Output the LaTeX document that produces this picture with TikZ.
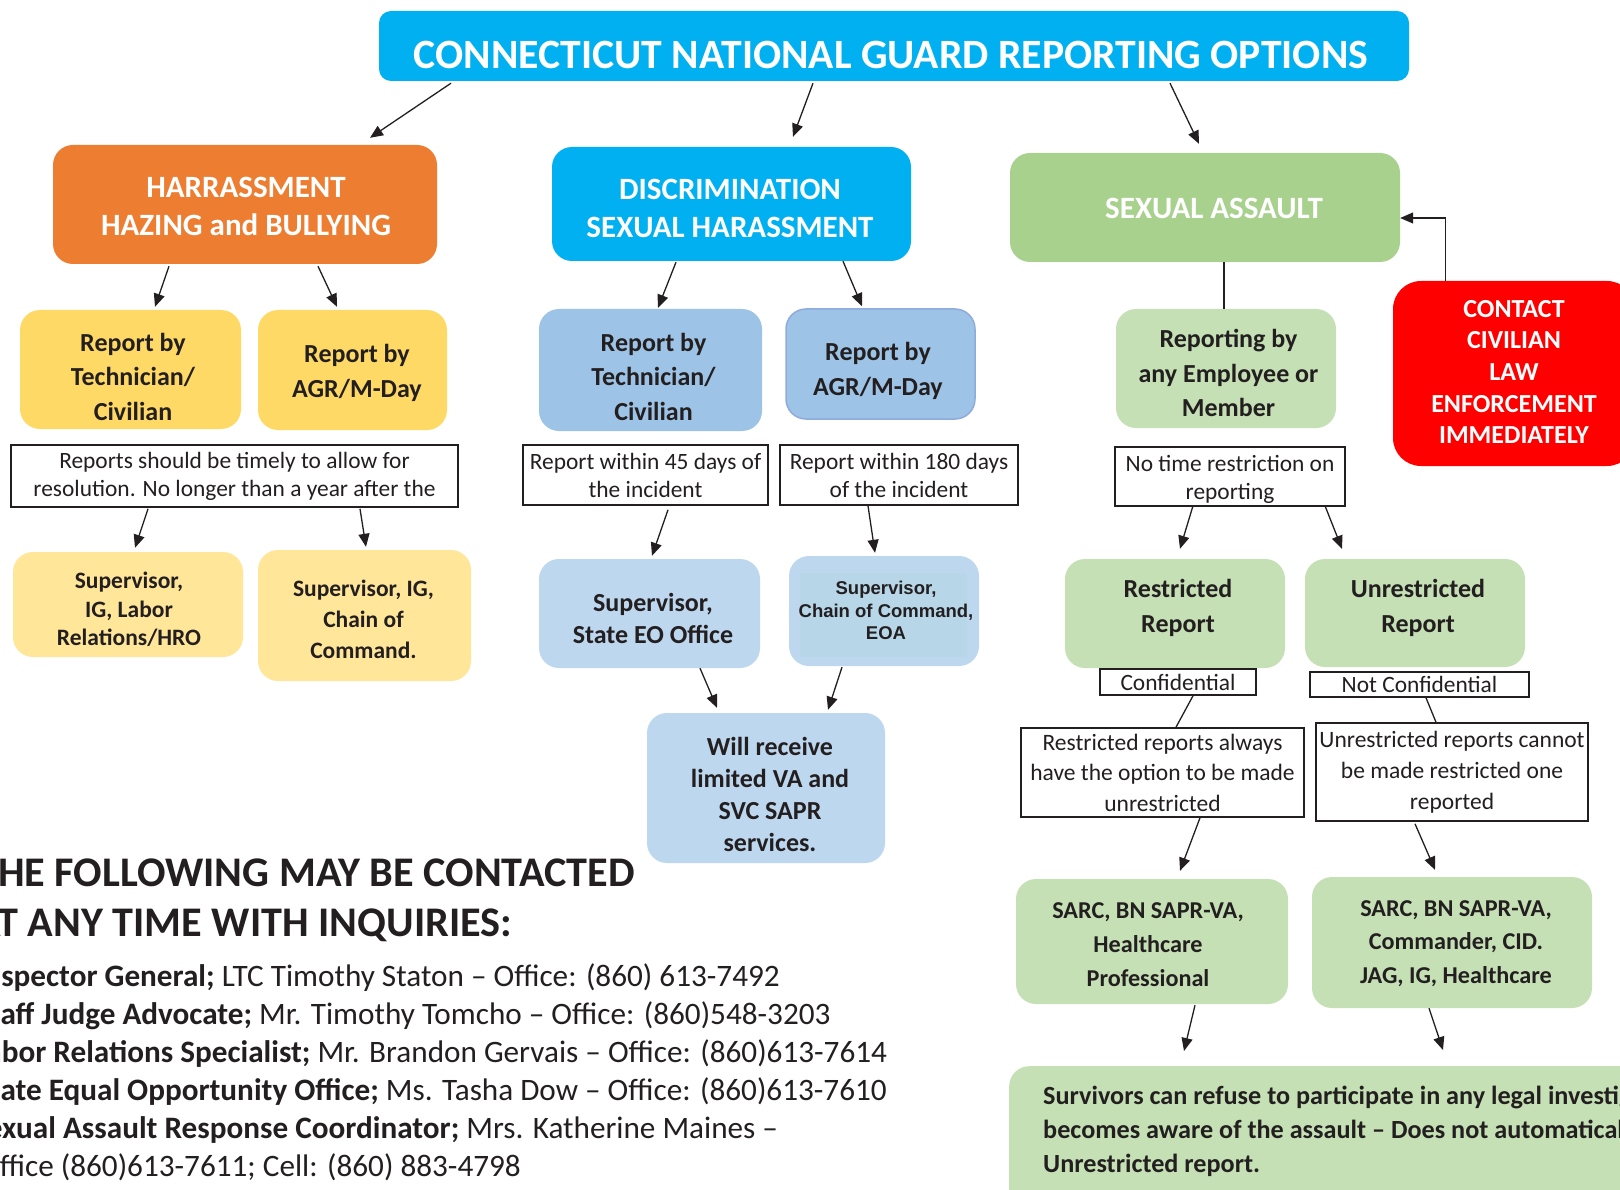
\documentclass[tikz,border=0pt]{standalone}
\usepackage{fontspec}
\setmainfont{Carlito}
\newfontfamily\arialfont{Liberation Sans}
\usetikzlibrary{arrows.meta,calc}
\definecolor{tc}{HTML}{231F20}
\definecolor{corange}{HTML}{ED7D31}
\definecolor{ccyan}{HTML}{00B0F0}
\definecolor{csa}{HTML}{A9D18E}
\definecolor{cred}{HTML}{FF0000}
\definecolor{cyel}{HTML}{FFD966}
\definecolor{cyel2}{HTML}{FFE699}
\definecolor{cblu}{HTML}{9DC3E6}
\definecolor{cblu2}{HTML}{BDD7EE}
\definecolor{cblu3}{HTML}{B7D6E8}
\definecolor{cbord}{HTML}{8FAADC}
\definecolor{clg}{HTML}{C5E0B4}
\tikzset{
  bx/.style={rounded corners=20pt, inner sep=0pt, draw=none},
  bt/.style={inner sep=0pt, align=center, text=tc, font=\bfseries\fontsize{26}{34.5}\selectfont},
  wt/.style={bt, text=white},
  hd/.style={wt, font=\bfseries\fontsize{31}{38}\selectfont},
  note/.style={draw=tc, line width=1.6pt, fill=white, inner sep=0pt, align=center, text=tc, font=\fontsize{23.4}{28}\selectfont},
  arr/.style={line width=1.3pt, draw=tc, -{Triangle[length=13pt,width=11pt]}},
  ln/.style={line width=1.3pt, draw=tc},
  lt/.style={inner sep=0pt, anchor=base west, text=tc},
}
\begin{document}
\begin{tikzpicture}[x=1pt,y=-1pt]
\useasboundingbox (0,0) rectangle (1620,1190);
\clip (0,0) rectangle (1620,1190);
\fill[white] (0,0) rectangle (1620,1190);

% title
\node[bx, fill=ccyan, rounded corners=12pt, minimum width=1030pt, minimum height=70pt] (title) at (894,46) {};
\node[wt, font=\bfseries\fontsize{41.7}{50}\selectfont] (titlet) at (891,55) {CONNECTICUT NATIONAL GUARD REPORTING OPTIONS};

% level 1
\node[bx, fill=corange, minimum width=384pt, minimum height=119pt] (harass) at (245,204.5) {};
\node[hd] (harasst) at (246,206) {HARRASSMENT\\HAZING and BULLYING};
\node[bx, fill=ccyan, minimum width=359pt, minimum height=114pt] (discr) at (731.5,204) {};
\node[hd] (discrt) at (730,208) {DISCRIMINATION\\SEXUAL HARASSMENT};
\node[bx, fill=csa, minimum width=390pt, minimum height=109pt] (sa) at (1205,207.5) {};
\node[hd] (sat) at (1214,208) {SEXUAL ASSAULT};
\node[bx, fill=cred, rounded corners=28pt, minimum width=242pt, minimum height=185pt] (contact) at (1514,373.5) {};
\node[wt, font=\bfseries\fontsize{26}{31.7}\selectfont] (contactt) at (1514,372) {CONTACT\\CIVILIAN\\LAW\\ENFORCEMENT\\IMMEDIATELY};

% level 2
\node[bx, fill=cyel, minimum width=221pt, minimum height=119pt] (y1) at (130.5,369.5) {};
\node[bt] (y1t) at (133,376.5) {Report by\\Technician/\\Civilian};
\node[bx, fill=cyel, minimum width=189pt, minimum height=120pt] (y2) at (352.5,370) {};
\node[bt] (y2t) at (357,373) {Report by\\AGR/M-Day};
\node[bx, fill=cblu, minimum width=223pt, minimum height=122pt] (b1) at (650.5,370) {};
\node[bt] (b1t) at (653.5,376.5) {Report by\\Technician/\\Civilian};
\node[bx, fill=cblu, draw=cbord, line width=1.5pt, minimum width=189pt, minimum height=110pt] (b2) at (880.5,364) {};
\node[bt] (b2t) at (878,371) {Report by\\AGR/M-Day};
\node[bx, fill=clg, minimum width=220pt, minimum height=119pt] (g1) at (1226,368.5) {};
\node[bt] (g1t) at (1228.5,373) {Reporting by\\any Employee or\\Member};

% notes
\node[note, minimum width=447pt, minimum height=62pt] (t1) at (234.5,476) {Reports should be timely to allow for\\resolution. No longer than a year after the};
\node[note, minimum width=245pt, minimum height=60pt] (t2) at (645.5,475) {Report within 45 days of\\the incident};
\node[note, minimum width=238pt, minimum height=60pt] (t3) at (899,475) {Report within 180 days\\of the incident};
\node[note, minimum width=230pt, minimum height=59pt] (t4) at (1230,476.5) {};
\node[inner sep=0pt, align=center, text=tc, font=\fontsize{23.4}{28}\selectfont] (t4t) at (1230,479) {No time restriction on\\reporting};

% level 3
\node[bx, fill=cyel2, minimum width=230pt, minimum height=105pt] (s1) at (128,604.5) {};
\node[bt, font=\bfseries\fontsize{23.5}{28.4}\selectfont] (s1t) at (129,609.3) {Supervisor,\\IG, Labor\\Relations/HRO};
\node[bx, fill=cyel2, minimum width=213pt, minimum height=131pt] (s2) at (364.5,615.5) {};
\node[bt, font=\bfseries\fontsize{23.5}{31}\selectfont] (s2t) at (363.5,619) {Supervisor, IG,\\Chain of\\Command.};
\node[bx, fill=cblu2, minimum width=221pt, minimum height=109pt] (s3) at (649.5,613.5) {};
\node[bt, font=\bfseries\fontsize{26}{32}\selectfont] (s3t) at (653,618) {Supervisor,\\State EO Office};
\node[bx, fill=cblu2, minimum width=190pt, minimum height=110pt] (s4) at (884,611) {};
\fill[cblu3] (800,573) rectangle (967,657);
\node[bt, font=\arialfont\bfseries\fontsize{18.5}{22.7}\selectfont] (s4t) at (886,610.5) {Supervisor,\\Chain of Command,\\EOA};
\node[bx, fill=cblu2, minimum width=238pt, minimum height=150pt] (will) at (766,788) {};
\node[bt, font=\bfseries\fontsize{26}{32}\selectfont] (willt) at (770,794) {Will receive\\limited VA and\\SVC SAPR\\services.};

% sexual assault branch
\node[bx, fill=clg, minimum width=220pt, minimum height=109pt] (r1) at (1175,613.5) {};
\node[bt] (r1t) at (1178,608) {Restricted\\Report};
\node[bx, fill=clg, minimum width=220pt, minimum height=108pt] (r2) at (1415,613) {};
\node[bt] (r2t) at (1418,608) {Unrestricted\\Report};
\node[note, minimum width=156pt, minimum height=26pt] (c1) at (1178,682) {Confidential};
\node[note, minimum width=219pt, minimum height=25pt] (c2) at (1419.5,684.5) {Not Confidential};
\node[note, font=\fontsize{23.5}{30.5}\selectfont, minimum width=283pt, minimum height=89pt] (n1) at (1162.5,772.5) {Restricted reports always\\have the option to be made\\unrestricted};
\node[note, font=\fontsize{23.5}{31}\selectfont, minimum width=272pt, minimum height=98pt] (n2) at (1452,772) {Unrestricted reports cannot\\be made restricted one\\reported};
\node[bx, fill=clg, minimum width=272pt, minimum height=125pt] (sarc1) at (1152,941.5) {};
\node[bt, font=\bfseries\fontsize{24.2}{34}\selectfont] (sarc1t) at (1148,945) {SARC, BN SAPR-VA,\\Healthcare\\Professional};
\node[bx, fill=clg, minimum width=280pt, minimum height=131pt] (sarc2) at (1452,942.5) {};
\node[bt, font=\bfseries\fontsize{24.2}{33.5}\selectfont] (sarc2t) at (1456,943.5) {SARC, BN SAPR-VA,\\Commander, CID.\\JAG, IG, Healthcare};
\node[bx, fill=clg, anchor=north west, minimum width=700pt, minimum height=200pt] (surv) at (1009,1066) {};
\node[lt, font=\bfseries\fontsize{26.2}{34}\selectfont] (surv1) at (1043,1104) {Survivors can refuse to participate in any legal investigation};
\node[lt, font=\bfseries\fontsize{26.2}{34}\selectfont] (surv2) at (1043,1138) {becomes aware of the assault -- Does not automatically};
\node[lt, font=\bfseries\fontsize{26.2}{34}\selectfont] (surv3) at (1043,1172) {Unrestricted report.};

% left text block
\node[lt, font=\bfseries\fontsize{42.2}{50}\selectfont] (h1) at (-23,886) {THE FOLLOWING MAY BE CONTACTED};
\node[lt, font=\bfseries\fontsize{42.2}{50}\selectfont] (h2) at (-25,936) {AT ANY TIME WITH INQUIRIES:};
\node[lt, font=\fontsize{31.2}{38}\selectfont] (l1) at (-24,986) {\textbf{Inspector General;} LTC Timothy Staton -- Office: (860) 613-7492};
\node[lt, font=\fontsize{31.2}{38}\selectfont] (l2) at (-25,1024) {\textbf{Staff Judge Advocate;} Mr. Timothy Tomcho -- Office: (860)548-3203};
\node[lt, font=\fontsize{31.2}{38}\selectfont] (l3) at (-27,1062) {\textbf{Labor Relations Specialist;} Mr. Brandon Gervais -- Office: (860)613-7614};
\node[lt, font=\fontsize{31.2}{38}\selectfont] (l4) at (-25,1100) {\textbf{State Equal Opportunity Office;} Ms. Tasha Dow -- Office: (860)613-7610};
\node[lt, font=\fontsize{31.2}{38}\selectfont] (l5) at (-28,1138) {\textbf{Sexual Assault Response Coordinator;} Mrs. Katherine Maines --};
\node[lt, font=\fontsize{31.2}{38}\selectfont] (l6) at (-21,1176) {Office (860)613-7611; Cell: (860) 883-4798};

% connectors
\draw[arr] ([xshift=-443pt,yshift=-2pt]title.south) -- ([xshift=125pt,yshift=7pt]harass.north);
\draw[arr] ([xshift=-81pt,yshift=-2pt]title.south) -- ([xshift=61.5pt,yshift=10pt]discr.north);
\draw[arr] ([xshift=276pt,yshift=-2pt]title.south) -- ([xshift=-6pt,yshift=9pt]sa.north);
\draw[arr] ([xshift=-76pt,yshift=-2pt]harass.south) -- ([xshift=24.5pt,yshift=3pt]y1.north);
\draw[arr] ([xshift=73pt,yshift=-2pt]harass.south) -- ([xshift=-15.5pt,yshift=3pt]y2.north);
\draw[arr] ([xshift=-55.5pt,yshift=-1pt]discr.south) -- ([xshift=7.5pt,yshift=1pt]b1.north);
\draw[arr] ([xshift=111.5pt,yshift=0pt]discr.south) -- ([xshift=-18.5pt,yshift=2pt]b2.north);
\draw[ln] ([xshift=19pt]sa.south) -- ([xshift=-2pt]g1.north);
\draw[arr] ([xshift=53pt]contact.north west) |- ([yshift=-10.5pt]sa.east);
\draw[arr] ([xshift=-86.5pt,yshift=-1pt]t1.south) -- ([xshift=7pt,yshift=4pt]s1.north);
\draw[arr] ([xshift=125.5pt,yshift=-1pt]t1.south) -- ([xshift=1.5pt,yshift=3pt]s2.north);
\draw[arr] ([xshift=22.5pt,yshift=-4pt]t2.south) -- ([xshift=2.5pt,yshift=3pt]s3.north);
\draw[arr] ([xshift=-31pt]t3.south) -- ([xshift=-9pt,yshift=3pt]s4.north);
\draw[arr] ([xshift=50.5pt]s3.south) -- ([xshift=-49pt,yshift=5pt]will.north);
\draw[arr] ([xshift=-42pt,yshift=-1pt]s4.south) -- ([xshift=62pt,yshift=3pt]will.north);
\draw[arr] ([xshift=-37pt,yshift=1pt]t4.south) -- ([xshift=5pt,yshift=10pt]r1.north);
\draw[arr] ([xshift=95pt,yshift=1pt]t4.south) -- ([xshift=-73pt,yshift=10pt]r2.north);
\draw[ln] ([xshift=15pt]c1.south) -- ([xshift=13.5pt]n1.north);
\draw[ln] ([xshift=6.5pt]c2.south) -- ([xshift=-16pt]n2.north);
\draw[arr] ([xshift=37.5pt]n1.south) -- ([xshift=28pt,yshift=8pt]sarc1.north);
\draw[arr] ([xshift=-37pt,yshift=-2pt]n2.south) -- ([xshift=-17pt,yshift=7pt]sarc2.north);
\draw[arr] ([xshift=43pt,yshift=-1pt]sarc1.south) -- ([xshift=175pt,yshift=15pt]surv.north west);
\draw[arr] ([xshift=-23pt]sarc2.south) -- ([xshift=434pt,yshift=16pt]surv.north west);
\end{tikzpicture}
\end{document}
